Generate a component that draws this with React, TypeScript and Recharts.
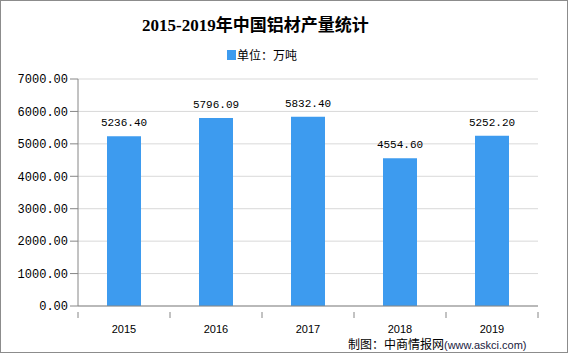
import React from "react";
import { BarChart, Bar, XAxis, YAxis, CartesianGrid, LabelList } from "recharts";

// 2015-2019 中国铝材产量 (万吨)
const years = ["2015", "2016", "2017", "2018", "2019"];
const output = [5236.4, 5796.09, 5832.4, 4554.6, 5252.2];
const yTicks = [0, 1000, 2000, 3000, 4000, 5000, 6000, 7000];

const data = years.map((y, i) => ({ year: y, value: output[i] }));

const BAR = "#3d9bef";
const AXIS = "#868686";

// x ticks: label in the middle, tick marks on category boundaries
const YearTick = (props: any) => {
  const { x, y, payload, index } = props;
  const half = 46;
  return (
    <g>
      <line x1={x + half} y1={y - 2} x2={x + half} y2={y + 4} stroke={AXIS} />
      {index === 0 && <line x1={x - half} y1={y - 2} x2={x - half} y2={y + 4} stroke={AXIS} />}
      <text x={x} y={y + 19} textAnchor="middle" fontSize={11} fontFamily="'Liberation Sans', Arial" fill="#000">
        {payload.value}
      </text>
    </g>
  );
};

export default function App() {
  return (
    <div style={{ position: "fixed", left: 0, top: 0, width: 569, height: 357, background: "#fff" }}>
      <div style={{ position: "absolute", left: 0, top: 0, width: 566, height: 351, border: "1px solid #8c8c8c" }} />
      <div
        style={{
          position: "absolute", left: 142, top: 11, fontSize: 17, fontWeight: "bold",
          fontFamily: "'Liberation Serif', 'Noto Sans CJK SC', serif", whiteSpace: "nowrap", color: "#000",
        }}
      >
        2015-2019年中国铝材产量统计
      </div>
      <div style={{ position: "absolute", left: 227, top: 46, display: "flex", alignItems: "center", whiteSpace: "nowrap" }}>
        <span style={{ width: 9, height: 10, background: BAR, display: "inline-block", marginRight: 1 }} />
        <span style={{ fontSize: 12, fontFamily: "'Noto Sans CJK SC', sans-serif", color: "#000" }}>单位：万吨</span>
      </div>
      <div style={{ position: "absolute", left: 0, top: 0 }}>
        <BarChart width={569} height={357} data={data} margin={{ top: 79, right: 31, left: 0, bottom: 21 }} barCategoryGap={29}>
          <CartesianGrid vertical={false} stroke="#d9d9d9" />
          <XAxis dataKey="year" height={30} stroke={AXIS} tickLine={false} tick={<YearTick />} interval={0} />
          <YAxis
            width={78}
            domain={[0, 7000]}
            ticks={yTicks}
            stroke={AXIS}
            tickSize={8}
            tickMargin={2}
            tickFormatter={(v: number) => v.toFixed(2)}
            tick={{ fontSize: 12, fontFamily: "'Liberation Mono', monospace", fill: "#000" }}
          />
          <Bar dataKey="value" fill={BAR} isAnimationActive={false}>
            <LabelList
              dataKey="value"
              position="top"
              offset={10}
              formatter={(v: number) => v.toFixed(2)}
              style={{ fontSize: 11, fontFamily: "'Liberation Mono', monospace", fill: "#000" }}
            />
          </Bar>
        </BarChart>
      </div>
      <div style={{ position: "absolute", left: 348, top: 335, whiteSpace: "nowrap", color: "#000" }}>
        <span style={{ fontSize: 12, fontFamily: "'Noto Sans CJK SC', sans-serif" }}>制图：中商情报网</span>
        <span style={{ fontSize: 11, fontFamily: "'Liberation Sans', Arial", color: "#1a1a40" }}>(www.askci.com)</span>
      </div>
    </div>
  );
}
